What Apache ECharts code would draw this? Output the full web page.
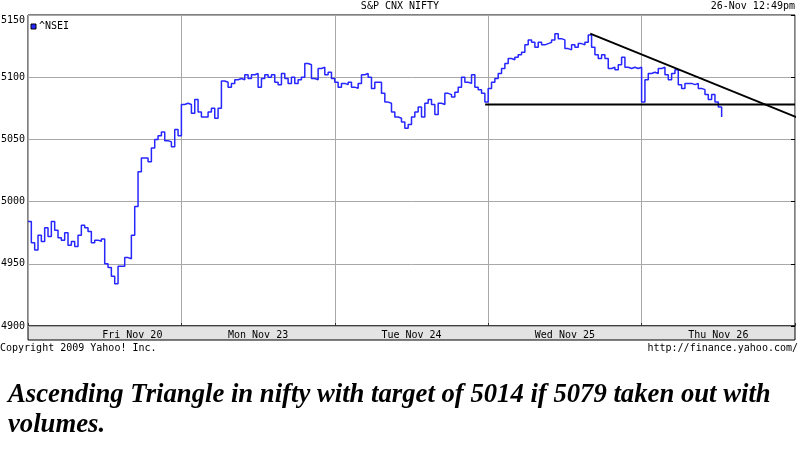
<!DOCTYPE html>
<html>
<head>
<meta charset="utf-8">
<script src="https://cdn.jsdelivr.net/npm/echarts@6/dist/echarts.min.js"></script>
<style>
  html, body { margin: 0; padding: 0; background: #fff; }
  #main { width: 800px; height: 475px; }
</style>
</head>
<body>
<div id="main"></div>
<script>
// ^NSEI intraday, sampled evenly through each trading day
const samplesPerDay = 46
const friPrices = [4984, 4967, 4961, 4973, 4968, 4979, 4972, 4984, 4977, 4971,
  4969, 4975, 4965, 4968, 4964, 4973, 4981, 4979, 4976, 4967,
  4969, 4968, 4970, 4950, 4947, 4940, 4934, 4948, 4948, 4955,
  4954, 4973, 4996, 5024, 5035, 5035, 5032, 5043, 5050, 5053,
  5056, 5049, 5048, 5044, 5058, 5053]
const monPrices = [5078, 5079, 5078, 5071, 5082, 5072, 5068, 5068, 5072, 5075,
  5067, 5075, 5097, 5096, 5092, 5095, 5098, 5099, 5098, 5102,
  5099, 5102, 5103, 5092, 5099, 5102, 5100, 5102, 5096, 5094,
  5103, 5099, 5095, 5100, 5095, 5098, 5100, 5111, 5110, 5099,
  5098, 5107, 5108, 5102, 5104, 5099]
const tuePrices = [5096, 5092, 5095, 5094, 5096, 5092, 5091, 5095, 5102, 5103,
  5100, 5091, 5096, 5096, 5087, 5080, 5079, 5072, 5068, 5067,
  5064, 5059, 5062, 5068, 5072, 5076, 5068, 5079, 5082, 5078,
  5070, 5079, 5078, 5087, 5086, 5084, 5088, 5092, 5100, 5096,
  5095, 5102, 5092, 5090, 5087, 5080]
const wedPrices = [5091, 5096, 5099, 5103, 5107, 5111, 5115, 5114, 5116, 5118,
  5120, 5126, 5130, 5128, 5124, 5128, 5126, 5127, 5128, 5130,
  5135, 5131, 5130, 5123, 5122, 5126, 5124, 5127, 5126, 5128,
  5134, 5124, 5118, 5115, 5118, 5115, 5107, 5108, 5106, 5110,
  5116, 5108, 5107, 5108, 5107, 5108]
const thuPrices = [5080, 5098, 5103, 5104, 5103, 5107, 5108, 5102, 5098, 5103,
  5106, 5094, 5091, 5095, 5095, 5094, 5095, 5091, 5090, 5086,
  5082, 5086, 5080, 5076, 5068]

const dayLabels = ['Fri Nov 20', 'Mon Nov 23', 'Tue Nov 24', 'Wed Nov 25', 'Thu Nov 26']
const dayLabelPos = [0.68, 1.5, 2.5, 3.5, 4.5]

// hand drawn trend lines: [day, price]
const supportLine = [[2.98, 5078], [5, 5078]]
const resistLine = [[3.665, 5135], [5.026, 5067]]

const days = [friPrices, monPrices, tuePrices, wedPrices, thuPrices]
const priceData = []
days.forEach((prices, d) => {
  prices.forEach((p, i) => {
    priceData.push([d + i / samplesPerDay, p])
  })
})

const mono = 'DejaVu Sans Mono'
const chart = echarts.init(document.getElementById('main'))

const option = {
  animation: false,
  backgroundColor: '#fff',
  grid: {
    left: 28, right: 5, top: 15, bottom: 149,
    outerBoundsMode: 'none',
    containLabel: false,
    show: true, borderColor: '#000', borderWidth: 1
  },
  xAxis: {
    type: 'value',
    min: 0, max: 5, interval: 1,
    axisLine: { show: false },
    axisTick: { show: true, inside: true, length: 3, lineStyle: { color: '#333' } },
    splitLine: { show: true, lineStyle: { color: '#a8a8a8', width: 1 } },
    axisLabel: {
      customValues: dayLabelPos,
      formatter: (v) => dayLabels[dayLabelPos.indexOf(v)] || '',
      fontFamily: mono, fontSize: 10, color: '#000', margin: 4
    }
  },
  yAxis: [{
    type: 'value',
    min: 4900, max: 5150, interval: 50,
    axisLine: { show: false },
    axisTick: { show: false },
    splitLine: { show: true, lineStyle: { color: '#a8a8a8', width: 1 } },
    axisLabel: {
      formatter: (v) => String(v), fontFamily: mono, fontSize: 10, color: '#000', margin: 3,
      verticalAlignMaxLabel: 'top'
    }
  }, {
    type: 'value',
    position: 'right',
    min: 4900, max: 5150, interval: 50,
    axisLine: { show: false },
    axisTick: { show: true, inside: true, length: 4, lineStyle: { color: '#000' } },
    splitLine: { show: false },
    axisLabel: { show: false }
  }],
  series: [{
    name: '^NSEI',
    type: 'line',
    step: 'end',
    data: priceData,
    symbol: 'none',
    lineStyle: { color: '#2626ff', width: 1.5 },
    z: 3
  }, {
    type: 'line',
    data: supportLine,
    symbol: 'none',
    silent: true,
    lineStyle: { color: '#000', width: 2 },
    z: 4
  }, {
    type: 'line',
    data: resistLine,
    symbol: 'none',
    clip: false,
    silent: true,
    lineStyle: { color: '#000', width: 2 },
    z: 4
  }],
  graphic: [
    // date strip under the plot
    { type: 'rect', shape: { x: 28, y: 326, width: 767, height: 14 },
      style: { fill: '#e3e3e3', stroke: '#000', lineWidth: 1 }, z: 0 },
    { type: 'text', x: 400, y: 1, style: { text: 'S&P CNX NIFTY', fontFamily: mono, fontSize: 10, fill: '#000', textAlign: 'center' } },
    { type: 'text', x: 795, y: 1, style: { text: '26-Nov 12:49pm', fontFamily: mono, fontSize: 10, fill: '#000', textAlign: 'right' } },
    { type: 'rect', shape: { x: 31, y: 24, width: 5, height: 5 }, style: { fill: '#2626ff', stroke: '#000', lineWidth: 1 } },
    { type: 'text', x: 39, y: 21, style: { text: '^NSEI', fontFamily: mono, fontSize: 10, fill: '#000' } },
    { type: 'text', x: 0, y: 343, style: { text: 'Copyright 2009 Yahoo! Inc.', fontFamily: mono, fontSize: 10, fill: '#000' } },
    { type: 'text', x: 798, y: 343, style: { text: 'http://finance.yahoo.com/', fontFamily: mono, fontSize: 10, fill: '#000', textAlign: 'right' } },
    { type: 'text', x: 8, y: 380, style: {
        text: 'Ascending Triangle in nifty with target of 5014 if 5079 taken out with\nvolumes.',
        fontFamily: 'Liberation Serif', fontStyle: 'italic', fontWeight: 'bold',
        fontSize: 26.7, lineHeight: 30, fill: '#000' } }
  ]
}
chart.setOption(option)
</script>
</body>
</html>
